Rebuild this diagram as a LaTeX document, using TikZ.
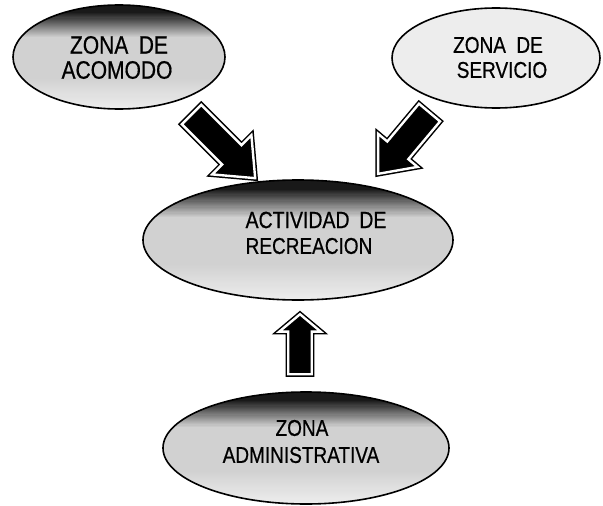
\documentclass[tikz,border=0pt]{standalone}
\usepackage{fontspec}
\setmainfont{Liberation Sans}
\newfontfamily\zonefont[FakeBold=0.7]{Liberation Sans}
\usetikzlibrary{shapes.geometric,shapes.arrows,calc}
\newcommand\zlbl[1]{\scalebox{1}[1.2]{#1}}
\tikzset{
  zone/.style={ellipse, draw=black, line width=1.6pt, inner sep=0pt},
  darkzone/.style={zone, fill=black!18, path picture={
      \coordinate (pbnw) at (path picture bounding box.north west);
      \coordinate (pbne) at (path picture bounding box.north east);
      \coordinate (pbsw) at (path picture bounding box.south west);
      \coordinate (pbse) at (path picture bounding box.south east);
      \foreach \i in {0,...,31} {
        \pgfmathsetmacro\fa{\i/100}
        \pgfmathsetmacro\fb{(\i+1.6)/100}
        \pgfmathsetmacro\cc{\fa<0.07 ? 90 : max(18, 90-(\fa-0.07)/0.24*72)}
        \fill[black!\cc] ($(pbnw)!\fa!(pbsw)$) rectangle ($(pbne)!\fb!(pbse)$);
      }
      \foreach \i in {0,...,29} {
        \pgfmathsetmacro\fa{(70+\i)/100}
        \pgfmathsetmacro\fb{(71.6+\i)/100}
        \pgfmathsetmacro\cc{18-\i/29*11}
        \fill[black!\cc] ($(pbnw)!\fa!(pbsw)$) rectangle ($(pbne)!\fb!(pbse)$);
      }}},
  lightzone/.style={zone, fill=black!7},
  lbl/.style={inner sep=0pt, font=\zonefont\fontsize{19}{22}\selectfont},
  blockarrow/.style={single arrow, fill=black, draw=black, line width=1.5pt,
    double=white, double distance=2.4pt, inner xsep=0pt, anchor=tail}
}
\begin{document}
\begin{tikzpicture}[x=1pt,y=-1pt]
\useasboundingbox (0,0) rectangle (603,506);
% zones
\node[darkzone, minimum width=212pt, minimum height=104pt] (e1) at (119,57) {};
\node[lightzone, minimum width=208pt, minimum height=100pt] (e2) at (496,58) {};
\node[darkzone, minimum width=310pt, minimum height=120pt] (e3) at (298,240) {};
\node[darkzone, minimum width=286pt, minimum height=112pt] (e4) at (306,448) {};
% labels
\node[lbl, font=\zonefont\fontsize{21}{24}\selectfont] (t1a) at (119,45) {\zlbl{ZONA\hspace{0.5em}DE}};
\node[lbl, font=\zonefont\fontsize{21}{24}\selectfont] (t1b) at (117,70) {\zlbl{ACOMODO}};
\node[lbl] (t2a) at (498,45) {\zlbl{ZONA\hspace{0.55em}DE}};
\node[lbl] (t2b) at (502,70) {\zlbl{SERVICIO}};
\node[lbl, font=\zonefont\fontsize{19.5}{22}\selectfont] (t3a) at (316,220) {\zlbl{ACTIVIDAD\hspace{0.5em}DE}};
\node[lbl] (t3b) at (309,246) {\zlbl{RECREACION}};
\node[lbl] (t4a) at (302,428) {\zlbl{ZONA}};
\node[lbl] (t4b) at (301,455) {\zlbl{ADMINISTRATIVA}};
% arrows
\coordinate (c1) at (191,114);
\coordinate (c2) at (430,112);
\coordinate (c3) at (300,375);
\node[blockarrow, rotate=-45, minimum height=90pt, inner ysep=13pt,
  single arrow head extend=14pt, single arrow tip angle=80] (a1) at (c1) {};
\node[blockarrow, rotate=-130, minimum height=80pt, inner ysep=13pt,
  single arrow head extend=12pt, single arrow tip angle=80] (a2) at (c2) {};
\node[blockarrow, rotate=90, minimum height=60pt, inner ysep=11pt,
  single arrow head extend=9pt, single arrow tip angle=100] (a3) at (c3) {};
\end{tikzpicture}
\end{document}
